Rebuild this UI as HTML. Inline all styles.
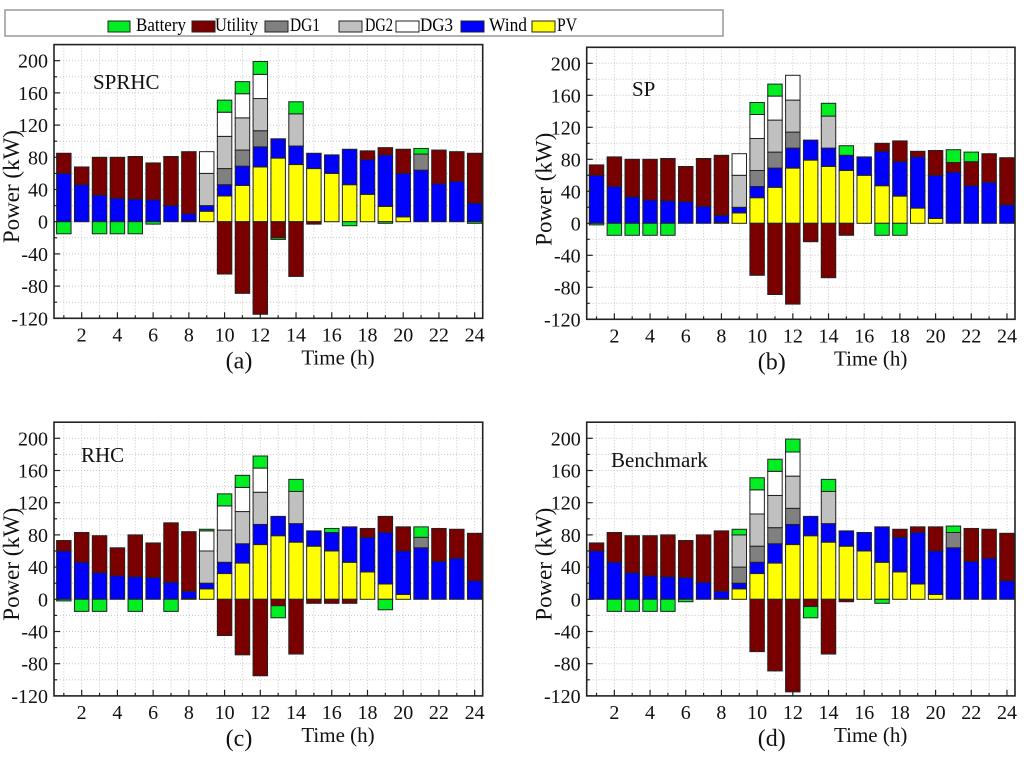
<!DOCTYPE html>
<html><head><meta charset="utf-8"><style>
html,body{margin:0;padding:0;background:#fff;}
svg, svg text{font-family:"Liberation Serif","Times New Roman",serif;}
</style></head><body>
<svg id="fig" width="1024" height="752" viewBox="0 0 1024 752" xmlns="http://www.w3.org/2000/svg" font-family="Liberation Serif, serif">
<g font-family="Liberation Serif, serif">
<rect x="5" y="10" width="718" height="26" fill="#fff" stroke="#999" stroke-width="1.5"/>
<g><rect x="108" y="21" width="22" height="11" fill="#00ee22" stroke="#222"/><text x="136" y="31" font-size="19" textLength="50" lengthAdjust="spacingAndGlyphs" font-family="Liberation Serif, serif">Battery</text></g>
<g><rect x="192" y="21" width="23" height="11" fill="#7a0000" stroke="#222"/><text x="215" y="31" font-size="19" textLength="43" lengthAdjust="spacingAndGlyphs" font-family="Liberation Serif, serif">Utility</text></g>
<g><rect x="265" y="21" width="23" height="11" fill="#808080" stroke="#222"/><text x="290" y="31" font-size="19" textLength="30" lengthAdjust="spacingAndGlyphs" font-family="Liberation Serif, serif">DG1</text></g>
<g><rect x="339" y="21" width="23" height="11" fill="#c0c0c0" stroke="#222"/><text x="365" y="31" font-size="19" textLength="28" lengthAdjust="spacingAndGlyphs" font-family="Liberation Serif, serif">DG2</text></g>
<g><rect x="396" y="21" width="23" height="11" fill="#fff" stroke="#222"/><text x="420" y="31" font-size="19" textLength="33" lengthAdjust="spacingAndGlyphs" font-family="Liberation Serif, serif">DG3</text></g>
<g><rect x="461" y="21" width="23" height="11" fill="#0000ff" stroke="#222"/><text x="489" y="31" font-size="19" textLength="38" lengthAdjust="spacingAndGlyphs" font-family="Liberation Serif, serif">Wind</text></g>
<g><rect x="532" y="21" width="23" height="11" fill="#ffff00" stroke="#222"/><text x="557" y="31" font-size="19" textLength="20" lengthAdjust="spacingAndGlyphs" font-family="Liberation Serif, serif">PV</text></g>
</g>
</svg>
<script>
const hours = [1,2,3,4,5,6,7,8,9,10,11,12,13,14,15,16,17,18,19,20,21,22,23,24];
const yTicks = [-120,-80,-40,0,40,80,120,160,200];
const xTickLabels = [2,4,6,8,10,12,14,16,18,20,22,24];

const aPV   = [0,0,0,0,0,0,0,1,13,32,45,68,79,71,66,60,46,34,19,6,0,0,0,0];
const aWind = [60,46,33,29,28,27,20,9,7,14,24,25,24,23,19,23,44,43,64,54,64,47,50,23];
const aDG1  = [0,0,0,0,0,0,0,0,0,20,20,20,0,0,0,0,0,0,0,0,20,0,0,0];
const aDG2  = [0,0,0,0,0,0,0,0,40,40,40,40,0,40,0,0,0,0,0,0,0,0,0,0];
const aDG3  = [0,0,0,0,0,0,0,0,27,30,30,30,0,0,0,0,0,0,0,0,0,0,0,0];
const aUtil = [25,22,47,51,53,46,61,77,0,-65,-89,-115,-20,-68,-3,0,0,11,9,30,0,42,37,62];
const aBatt = [-15,0,-15,-15,-15,-3,0,0,0,15,15,16,-2,15,0,0,-5,0,-2,0,7,0,0,-2];

const bPV   = [0,0,0,0,0,0,0,1,13,32,45,69,79,71,66,60,47,34,19,6,0,0,0,0];
const bWind = [60,46,33,29,28,27,21,9,7,14,24,25,25,23,19,23,43,43,64,54,64,47,51,23];
const bDG1  = [0,0,0,0,0,0,0,0,0,20,20,20,0,0,0,0,0,0,0,0,0,0,0,0];
const bDG2  = [0,0,0,0,0,0,0,0,40,40,40,40,0,40,0,0,0,0,0,0,0,0,0,0];
const bDG3  = [0,0,0,0,0,0,0,0,27,30,30,31,0,0,0,0,0,0,0,0,0,0,0,0];
const bUtil = [13,37,47,51,53,44,60,75,0,-65,-89,-101,-23,-68,-15,0,10,26,7,31,12,30,36,59];
const bBatt = [-2,-15,-15,-15,-15,0,0,0,0,15,15,0,0,16,12,0,-15,-15,0,0,16,12,0,0];

const cPV   = [0,0,0,0,0,0,0,1,13,32,45,68,79,71,66,60,46,34,19,6,0,0,0,0];
const cWind = [60,46,33,29,28,27,21,9,7,14,24,25,24,23,19,23,44,43,64,54,64,47,51,23];
const cDG1  = [0,0,0,0,0,0,0,0,0,0,0,0,0,0,0,0,0,0,0,0,13,0,0,0];
const cDG2  = [0,0,0,0,0,0,0,0,40,40,40,40,0,40,0,0,0,0,0,0,0,0,0,0];
const cDG3  = [0,0,0,0,0,0,0,0,25,30,30,30,0,0,0,0,0,0,0,0,0,0,0,0];
const cUtil = [13,37,46,35,52,43,74,74,0,-45,-69,-95,-8,-68,-5,-5,-5,11,20,30,0,41,36,59];
const cBatt = [-2,-15,-15,0,-15,0,-15,0,2,15,15,15,-15,15,0,5,0,0,-13,0,13,0,0,0];

const dPV   = [0,0,0,0,0,0,0,1,13,32,45,68,79,71,66,60,46,34,19,6,0,0,0,0];
const dWind = [60,46,33,29,28,27,21,9,7,14,24,25,24,23,19,23,44,43,64,54,64,47,51,23];
const dDG1  = [0,0,0,0,0,0,0,0,20,20,20,20,0,0,0,0,0,0,0,0,19,0,0,0];
const dDG2  = [0,0,0,0,0,0,0,0,40,40,40,40,0,40,0,0,0,0,0,0,0,0,0,0];
const dDG3  = [0,0,0,0,0,0,0,0,0,30,30,30,0,0,0,0,0,0,0,0,0,0,0,0];
const dUtil = [10,37,46,50,52,46,59,75,0,-65,-89,-115,-9,-68,-3,0,0,10,7,30,0,41,36,59];
const dBatt = [0,-15,-15,-15,-15,-3,0,0,7,15,15,16,-14,15,0,0,-5,0,0,0,8,0,0,0];

const NS = "http://www.w3.org/2000/svg";
const svg = document.getElementById('fig');
const FONT = 'Liberation Serif, serif';
const colors = {pv:'#ffff00',wind:'#0000ff',dg1:'#808080',dg2:'#c0c0c0',dg3:'#ffffff',util:'#7a0000',batt:'#00ee22'};

function mk(tag, attrs, parent){
  const e = document.createElementNS(NS, tag);
  for (const k in attrs) e.setAttribute(k, attrs[k]);
  if (tag === 'text') e.setAttribute('font-family', FONT);
  parent.appendChild(e);
  return e;
}

const panels = [
  {id:'a', L:54, T:44.6, W:428.7, H:273.7, title:'SPRHC', tx:93, ty:89, data:[aPV,aWind,aDG1,aDG2,aDG3,aUtil,aBatt]},
  {id:'b', L:586.7, T:47.3, W:428.3, H:272, title:'SP', tx:632, ty:96, data:[bPV,bWind,bDG1,bDG2,bDG3,bUtil,bBatt]},
  {id:'c', L:54, T:422.2, W:428.7, H:273.7, title:'RHC', tx:81, ty:462, data:[cPV,cWind,cDG1,cDG2,cDG3,cUtil,cBatt]},
  {id:'d', L:586.7, T:422.2, W:428.3, H:273.7, title:'Benchmark', tx:611, ty:467, data:[dPV,dWind,dDG1,dDG2,dDG3,dUtil,dBatt]}
];
const keys = ['pv','wind','dg1','dg2','dg3','util','batt'];

panels.forEach(p => {
  const g = mk('g', {}, svg);
  
  
  const xs = h => p.L + (h - 0.45) / 24 * p.W;
  const ys = v => p.T + (220 - v) / 340 * p.H;
  const B = p.T + p.H;
  for (let v = -100; v <= 200; v += 20) {
    const l = mk('line', {x1:p.L, x2:p.L+p.W, y1:ys(v), y2:ys(v), stroke:'#c8c8c8', 'stroke-width':1, 'stroke-dasharray':'1,2'}, g);
    
    
  }
  hours.forEach(h => {
    const l = mk('line', {x1:xs(h), x2:xs(h), y1:p.T, y2:B, stroke:'#c8c8c8', 'stroke-width':1, 'stroke-dasharray':'1,2'}, g);
    
    
  });
  const bw = 0.81 / 24 * p.W;
  hours.forEach((h, i) => {
    let pos = 0, neg = 0;
    [0,1,2,3,4,5,6].forEach(s => {
      const v = p.data[s][i];
      if (v > 0) {
        const r = mk('rect', {x:xs(h)-bw/2, y:ys(pos+v), width:bw, height:ys(pos)-ys(pos+v), fill:colors[keys[s]], stroke:'#222', 'stroke-width':1}, g);
        
        
        pos += v;
      }
    });
    [5,6].forEach(s => {
      const v = p.data[s][i];
      if (v < 0) {
        const r = mk('rect', {x:xs(h)-bw/2, y:ys(neg), width:bw, height:ys(neg+v)-ys(neg), fill:colors[keys[s]], stroke:'#222', 'stroke-width':1}, g);
        
        
        neg += v;
      }
    });
  });
  const f = mk('rect', {x:p.L, y:p.T, width:p.W, height:p.H, fill:'none', stroke:'#222', 'stroke-width':1.6}, g);
  
  
  for (let v = -120; v <= 200; v += 20) {
    const len = (v % 40 === 0) ? 6 : 3;
    mk('line', {x1:p.L, x2:p.L+len, y1:ys(v), y2:ys(v), stroke:'#222', 'stroke-width':1.2}, g);
  }
  yTicks.forEach(v => {
    const t = mk('text', {x:p.L-6, y:ys(v)+7, 'font-size':20, 'text-anchor':'end', fill:'#111'}, g);
    t.textContent = v;
    
    
  });
  hours.forEach(h => {
    const len = (h % 2 === 0) ? 6 : 3;
    mk('line', {x1:xs(h), x2:xs(h), y1:B, y2:B-len, stroke:'#222', 'stroke-width':1.2}, g);
  });
  xTickLabels.forEach(h => {
    const t = mk('text', {x:xs(h), y:B+23, 'font-size':20, 'text-anchor':'middle', fill:'#111'}, g);
    t.textContent = h;
    
    
  });
  const xt = mk('text', {x:p.L+284, y:B+46, 'font-size':21, 'text-anchor':'middle', fill:'#111'}, g);
  xt.textContent = 'Time (h)';
  
  
  const pl = mk('text', {x:p.L+185, y:B+50, 'font-size':24, 'text-anchor':'middle', fill:'#111'}, g);
  pl.textContent = '(' + p.id + ')';
  
  
  const yt = mk('text', {x:0, y:0, 'font-size':23, 'text-anchor':'middle', fill:'#111', transform:'translate(' + (p.L-35) + ',' + (p.T+142) + ') rotate(-90)'}, g);
  yt.textContent = 'Power (kW)';
  
  
  const tt = mk('text', {x:p.tx, y:p.ty, 'font-size':21, fill:'#111'}, g);
  tt.textContent = p.title;
  
  
});
</script>
</body></html>
